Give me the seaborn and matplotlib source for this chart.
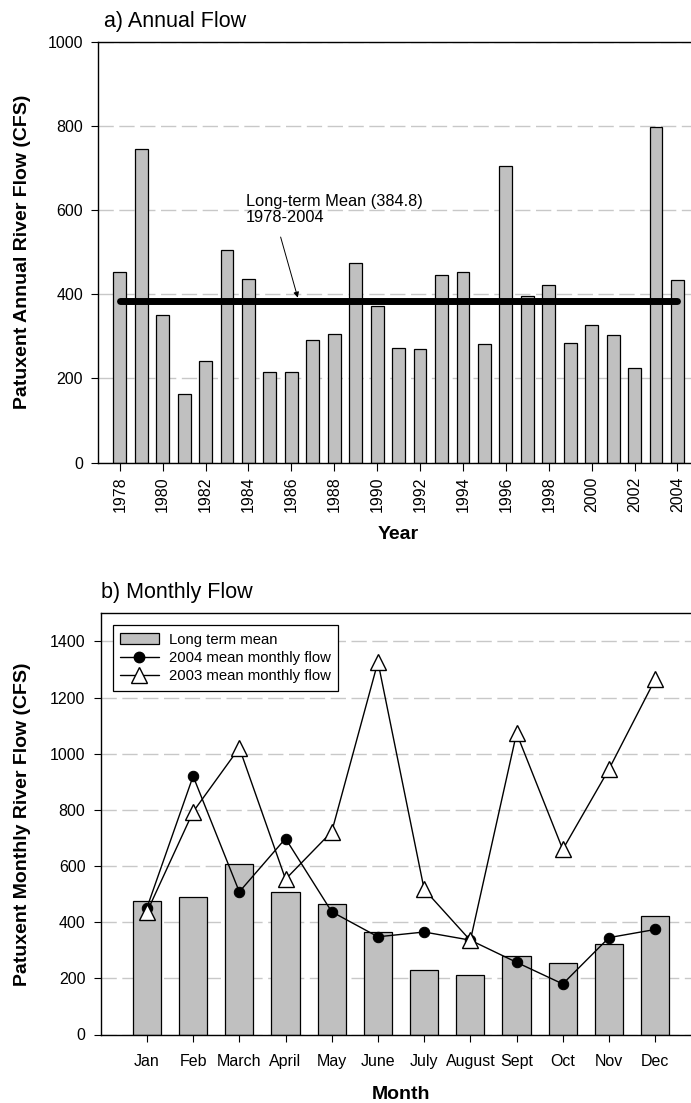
import matplotlib
matplotlib.use("Agg")
import matplotlib.pyplot as plt
from matplotlib.patches import Patch
from matplotlib.lines import Line2D
import seaborn as sns
import pandas as pd

# ---- data ----
years = list(range(1978, 2005))
annual_flow = [452, 745, 352, 163, 242, 505, 437, 215, 215, 291, 305, 474, 373,
               272, 269, 447, 453, 281, 705, 397, 422, 285, 326, 304, 224, 798, 435]
long_term_mean = 384.8

months = ["Jan", "Feb", "March", "April", "May", "June", "July", "August",
          "Sept", "Oct", "Nov", "Dec"]
monthly_mean = [475, 490, 607, 509, 463, 366, 230, 211, 279, 253, 322, 422]
flow_2004 = [451, 920, 508, 698, 437, 348, 365, 336, 257, 180, 345, 374]
flow_2003 = [436, 793, 1021, 553, 722, 1327, 517, 335, 1073, 659, 945, 1265]

sns.set_style("ticks")
plt.rcParams["font.family"] = ["Liberation Sans", "DejaVu Sans"]
plt.rcParams["axes.linewidth"] = 1.0
for k in ["text.color", "axes.labelcolor", "xtick.color", "ytick.color", "axes.edgecolor"]:
    plt.rcParams[k] = "black"

W, H = 691, 1103
fig = plt.figure(figsize=(W / 100, H / 100), dpi=100)

bar_color = "#c0c0c0"
grid_kw = dict(color="#c8c8c8", lw=1.0, ls=(0, (11, 4)))
tick_fs = 11.5
lab_fs = 14
title_fs = 15.5

# ---------------- panel a ----------------
axa = fig.add_axes([98.3 / W, 1 - 462.7 / H, (698.9 - 98.3) / W, (462.7 - 41.7) / H])
df_a = pd.DataFrame({"Year": years, "Flow": annual_flow})
sns.barplot(data=df_a, x="Year", y="Flow", native_scale=True, color=bar_color,
            saturation=1, width=0.6, edgecolor="black", linewidth=0.9, ax=axa, zorder=2)
axa.plot([years[0], years[-1]], [long_term_mean, long_term_mean], color="black",
         lw=5, solid_capstyle="round", zorder=3)
axa.set_xlim(1977, 2005)
axa.set_ylim(0, 1000)
axa.set_yticks([0, 200, 400, 600, 800, 1000])
axa.set_xticks(years[::2])
axa.set_xticklabels([str(y) for y in years[::2]], rotation=90)
axa.set_axisbelow(True)
axa.yaxis.grid(True, **grid_kw)
axa.spines["right"].set_visible(False)
axa.tick_params(axis="y", length=5, pad=6, labelsize=tick_fs)
axa.tick_params(axis="x", length=6, pad=4, labelsize=tick_fs)
axa.set_xlabel("Year", fontsize=lab_fs, fontweight="bold", labelpad=10)
axa.set_ylabel("Patuxent Annual River Flow (CFS)", fontsize=lab_fs, fontweight="bold")
axa.yaxis.set_label_coords(-0.112, 0.5)
axa.text(1983.87, 638, "Long-term Mean (384.8)\n1978-2004", ha="left", va="top",
         fontsize=11.8, linespacing=1.05)
axa.annotate("", xy=(1986.3, 392), xytext=(1985.5, 536), textcoords="data",
             arrowprops=dict(arrowstyle="-|>", color="black", lw=0.7,
                             mutation_scale=8, shrinkA=0, shrinkB=0))
fig.text(104 / W, 1 - 27 / H, "a) Annual Flow", fontsize=title_fs, ha="left", va="baseline")

# ---------------- panel b ----------------
axb = fig.add_axes([100.7 / W, 1 - 1034.5 / H, (701.4 - 100.7) / W, (1034.5 - 613.3) / H])
df_b = pd.DataFrame({"Month": months, "Mean": monthly_mean,
                     "F2004": flow_2004, "F2003": flow_2003})
sns.barplot(data=df_b, x="Month", y="Mean", color=bar_color, saturation=1, width=0.61,
            edgecolor="black", linewidth=0.9, ax=axb, zorder=2)
sns.lineplot(data=df_b, x="Month", y="F2004", color="black", lw=1, marker="o",
             markersize=7.5, markerfacecolor="black", markeredgecolor="black",
             ax=axb, zorder=4, sort=False)
sns.lineplot(data=df_b, x="Month", y="F2003", color="black", lw=1, marker="^",
             markersize=11, markerfacecolor="white", markeredgecolor="black",
             markeredgewidth=1, ax=axb, zorder=5, sort=False)
axb.set_xlim(-1, 12)
axb.set_ylim(0, 1500)
axb.set_yticks([0, 200, 400, 600, 800, 1000, 1200, 1400])
axb.set_axisbelow(True)
axb.yaxis.grid(True, **grid_kw)
axb.spines["right"].set_visible(False)
axb.tick_params(axis="y", length=5, pad=6, labelsize=tick_fs)
axb.tick_params(axis="x", length=5, pad=9, labelsize=tick_fs)
axb.set_xlabel("Month", fontsize=lab_fs, fontweight="bold", labelpad=12)
axb.set_ylabel("Patuxent Monthly River Flow (CFS)", fontsize=lab_fs, fontweight="bold")
axb.yaxis.set_label_coords(-0.1155, 0.5)
handles = [
    Patch(facecolor=bar_color, edgecolor="black", linewidth=0.9),
    Line2D([], [], color="black", lw=1, marker="o", markersize=7.5,
           markerfacecolor="black"),
    Line2D([], [], color="black", lw=1, marker="^", markersize=11,
           markerfacecolor="white", markeredgecolor="black"),
]
labels = ["Long term mean", "2004 mean monthly flow", "2003 mean monthly flow"]
leg = axb.legend(handles, labels, loc="upper left", bbox_to_anchor=(0.02, 0.972),
                 borderaxespad=0, fancybox=False, framealpha=1, edgecolor="black",
                 fontsize=10.7, handlelength=2.6, handletextpad=0.7,
                 labelspacing=0.3, borderpad=0.5)
leg.get_frame().set_linewidth(0.9)
fig.text(100.7 / W, 1 - 598.3 / H, "b) Monthly Flow", fontsize=title_fs, ha="left", va="baseline")

fig.savefig("out.png", dpi=100)
